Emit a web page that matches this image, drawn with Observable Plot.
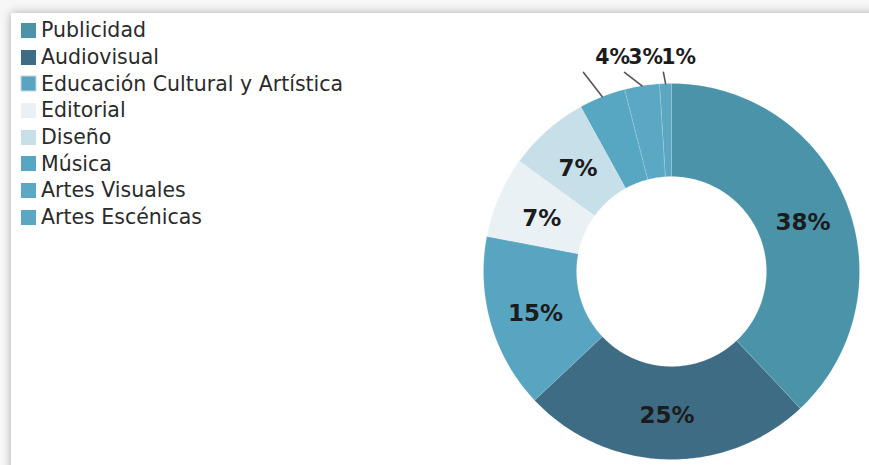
<!DOCTYPE html>
<html>
<head>
<meta charset="utf-8">
<script src="https://cdn.jsdelivr.net/npm/d3@7"></script>
<script src="https://cdn.jsdelivr.net/npm/@observablehq/plot@0.6"></script>
<style>
  html, body { margin: 0; padding: 0; background: #f7f7f7; width: 869px; height: 465px; overflow: hidden; }
  #panel { position: absolute; left: 11px; top: 13px; width: 900px; height: 500px; background: #fff;
           box-shadow: 0 0 9px rgba(0,0,0,0.30); }
  #chart { position: absolute; left: 0; top: 0; }
  #legend { position: absolute; left: 21px; top: 17px; }
  #legend .lg-swatch { display: flex !important; align-items: center !important; height: 26.7px !important;
                       margin: 0 !important; padding: 0 !important; }
  #legend .lg-swatch svg { margin-right: 5px !important; }
  #legend .lg-swatch:nth-child(4) svg rect { stroke: #c9d7df; stroke-width: 1; }
</style>
</head>
<body>
<div id="panel"></div>
<div id="chart"></div>
<div id="legend"></div>
<script>
// ---- data ----
const categories = ["Publicidad", "Audiovisual", "Educación Cultural y Artística", "Editorial", "Diseño", "Música", "Artes Visuales", "Artes Escénicas"];
const shares = [38, 25, 15, 7, 7, 4, 3, 1];
const colors = ["#4a93a8", "#3e6c84", "#58a5c1", "#e9f1f5", "#c6dfe8", "#57a6c2", "#5aa8c3", "#5ba7c2"];
const pctLabels = ["38%", "25%", "15%", "7%", "7%", "4%", "3%", "1%"];

// ---- layout ----
const innerRatio = 0.505;
const insideMin = 5; // slices smaller than this get an outside callout
// outside callouts: line end and label start, in units of the outer radius
const callouts = {
  "Música":          {end: [-0.468, -1.059], label: [-0.405, -1.14]},
  "Artes Visuales":  {end: [-0.250, -1.059], label: [-0.230, -1.14]},
  "Artes Escénicas": {end: [-0.043, -1.059], label: [-0.055, -1.14]}
};

const pt = (r, a) => [r * Math.sin(a), -r * Math.cos(a)];
const arcs = d3.pie().sort(null).value(d => d)(shares);

const slices = arcs.map((a, i) => {
  const n = Math.max(2, Math.ceil((a.endAngle - a.startAngle) / (Math.PI / 180)));
  const outer = d3.range(n + 1).map(k => pt(1, a.startAngle + (a.endAngle - a.startAngle) * k / n));
  const inner = d3.range(n + 1).map(k => pt(innerRatio, a.endAngle - (a.endAngle - a.startAngle) * k / n));
  const ring = [...outer, ...inner, outer[0]];
  return {type: "Feature", properties: {name: categories[i]}, geometry: {type: "Polygon", coordinates: [ring]}};
});

const inside = arcs.map((a, i) => {
  const m = (a.startAngle + a.endAngle) / 2;
  const [x, y] = pt((1 + innerRatio) / 2, m);
  return {x, y, text: pctLabels[i], share: shares[i]};
}).filter(d => d.share >= insideMin);

const outside = arcs.map((a, i) => ({a, i})).filter(d => shares[d.i] < insideMin).map(({a, i}) => {
  const m = (a.startAngle + a.endAngle) / 2;
  const c = callouts[categories[i]];
  return {start: pt(1, m), end: c.end, x: c.label[0], y: c.label[1], text: pctLabels[i]};
});
const leaders = outside.map(d => ({type: "Feature", geometry: {type: "LineString", coordinates: [d.start, d.end]}}));

const domain = {type: "Polygon", coordinates: [[[-1, -1], [1, -1], [1, 1], [-1, 1], [-1, -1]]]};

const cx = 671, cy = 271, R = 188, W = 869, H = 465;
const chart = Plot.plot({
  width: W, height: H,
  marginLeft: cx - R, marginRight: W - cx - R, marginTop: cy - R, marginBottom: H - cy - R,
  projection: {type: "identity", domain, clip: false},
  color: {domain: categories, range: colors},
  style: {fontFamily: "DejaVu Sans", background: "transparent", overflow: "visible"},
  marks: [
    Plot.geo(slices, {fill: d => d.properties.name, stroke: "#ffffff", strokeOpacity: 0.14, strokeWidth: 1}),
    Plot.geo(leaders, {stroke: "#555", strokeWidth: 1.6, clip: false}),
    Plot.text(inside, {x: "x", y: "y", text: "text", fontWeight: "bold", fontSize: 23, fill: "#1c1c1c", dy: 3}),
    Plot.text(outside, {x: "x", y: "y", text: "text", fontWeight: "bold", fontSize: 20.5, fill: "#1c1c1c", textAnchor: "start", clip: false})
  ]
});
document.getElementById("chart").appendChild(chart);

const legend = Plot.legend({
  color: {domain: categories, range: colors},
  legend: "swatches",
  columns: 1,
  swatchSize: 15,
  className: "lg",
  style: {fontFamily: "DejaVu Sans", fontSize: "20.5px", color: "#2b2b2b", background: "transparent"}
});
document.getElementById("legend").appendChild(legend);
</script>
</body>
</html>
